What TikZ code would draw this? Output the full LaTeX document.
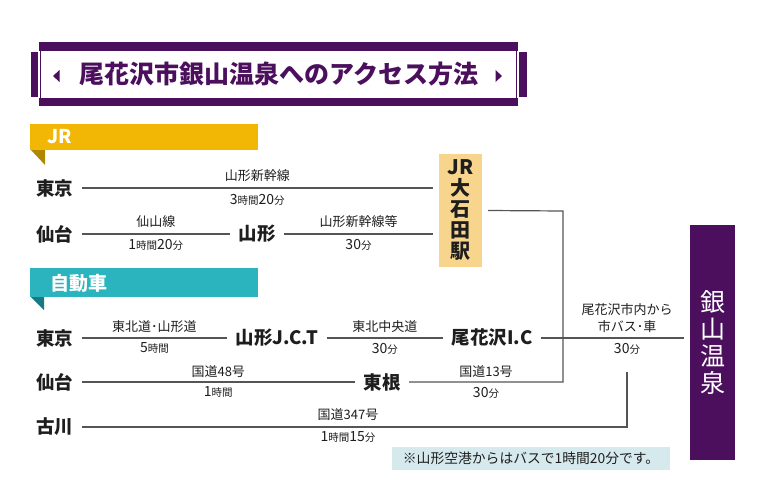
\documentclass[tikz,border=0pt]{standalone}
\usepackage{fontspec}
\setmainfont{Noto Sans CJK JP}
\definecolor{purp}{HTML}{4B0F5E}
\definecolor{jry}{HTML}{F2B705}
\definecolor{jryd}{HTML}{B08800}
\definecolor{carteal}{HTML}{2BB3BE}
\definecolor{tealdk}{HTML}{167A82}
\definecolor{jrboxc}{HTML}{F8D58C}
\definecolor{notebg}{HTML}{D6E9ED}
\definecolor{linec}{HTML}{555555}
\definecolor{txt}{HTML}{1E1E1E}
\newcommand\smtx[1]{{\fontsize{10.5}{12}\selectfont #1}}
\begin{document}
\begin{tikzpicture}[x=1pt,y=-1pt,
  route/.style={draw=linec, line width=1.2pt},
  stn/.style={font=\fontsize{18.5}{20}\selectfont\bfseries, text=txt, inner sep=0pt, outer xsep=8.5pt},
  lab/.style={font=\fontsize{13}{15}\selectfont, text=txt, inner sep=0pt},
  tlab/.style={font=\fontsize{14}{15}\selectfont, text=txt, inner sep=0pt},
  bannertext/.style={font=\fontsize{19}{20}\selectfont\bfseries, text=white, inner sep=0pt, anchor=west},
]
\useasboundingbox (0,0) rectangle (757,503);
\fill[white] (0,0) rectangle (757,503);

% ---- title frame ----
\fill[purp] (39,42) rectangle (518,51);
\fill[purp] (39,98) rectangle (518,106);
\fill[purp] (31,52) rectangle (38,97);
\fill[purp] (519,52) rectangle (527,97);
\draw[purp, line width=1.5pt] (40.5,51) -- (40.5,98);
\draw[purp, line width=1.5pt] (516.5,51) -- (516.5,98);
\fill[purp] (53,76) -- (59.5,70) -- (59.5,82) -- cycle;
\fill[purp] (502,76) -- (495.5,70) -- (495.5,82) -- cycle;
\node[font=\fontsize{25}{26}\selectfont\bfseries, text=purp, inner sep=0pt] (title) at (279,74) {尾花沢市銀山温泉へのアクセス方法};

% ---- JR banner ----
\fill[jry] (30,124) rectangle (258,150);
\fill[jryd] (31,150) -- (45,150) -- (45,165) -- cycle;
\node[bannertext] (jrlabel) at (47,137) {JR};

% ---- car banner ----
\fill[carteal] (30,268) rectangle (258,297);
\fill[tealdk] (31,297) -- (44,297) -- (44,310) -- cycle;
\node[bannertext] (carlabel) at (50,283) {自動車};

% ---- JR section ----
\node[stn, anchor=west] (jtokyo) at (27.5,188) {東京};
\node[stn, anchor=west] (jsendai) at (27.5,234) {仙台};
\node[stn] (jyama) at (257,234) {山形};
\node[fill=jrboxc, minimum width=43pt, minimum height=113pt, inner sep=0pt, outer sep=6pt,
      font=\fontsize{20}{21}\selectfont\bfseries, text=txt, align=center] (jbox) at (460.5,210.5)
      {JR\\大\\石\\田\\駅};

\draw[route] (jtokyo.east) -- (jtokyo.east -| jbox.west)
  node[lab, midway, yshift=12pt] (l1) {山形新幹線}
  node[tlab, midway, yshift=-12pt] (t1) {3\smtx{時間}20\smtx{分}};
\draw[route] (jsendai.east) -- (jyama.west)
  node[lab, midway, yshift=12pt] (l2) {仙山線}
  node[tlab, midway, yshift=-11pt] (t2) {1\smtx{時間}20\smtx{分}};
\draw[route] (jyama.east) -- (jyama.east -| jbox.west)
  node[lab, midway, yshift=12pt] (l3) {山形新幹線等}
  node[tlab, midway, yshift=-11pt] (t3) {30\smtx{分}};

% ---- car section ----
\node[stn, anchor=west] (ctokyo) at (27.5,338) {東京};
\node[stn] (cjct) at (277,338) {山形J.C.T};
\node[stn] (cic) at (492,338) {尾花沢I.C};
\node[stn, anchor=west] (csendai) at (27.5,382) {仙台};
\node[stn] (ctone) at (382,382) {東根};
\node[stn, anchor=west] (cfuru) at (27.5,427) {古川};

\node[fill=purp, minimum width=45pt, minimum height=235pt, inner sep=0pt, outer sep=6pt,
      font=\fontsize{25}{27}\selectfont, text=white, align=center] (gin) at (712.5,342.5)
      {銀\\山\\温\\泉};

\coordinate (c1) at (563,211);
\coordinate (c3) at (627,372);

\draw[route] (ctokyo.east) -- (cjct.west)
  node[lab, midway, yshift=11pt] (l4) {東北道･山形道}
  node[tlab, midway, yshift=-10pt] (t4) {5\smtx{時間}};
\draw[route] (cjct.east) -- (cic.west)
  node[lab, midway, yshift=11pt] (l5) {東北中央道}
  node[tlab, midway, yshift=-11pt] (t5) {30\smtx{分}};
\draw[route] (csendai.east) -- (ctone.west)
  node[lab, midway, yshift=10pt] (l6) {国道48号}
  node[tlab, midway, yshift=-10pt] (t6) {1\smtx{時間}};
\draw[route] (jbox.east) -- (c1) |- (ctone.east);
\path (ctone.east) -- (ctone.east -| c1)
  node[lab, midway, yshift=10pt] (l7) {国道13号}
  node[tlab, midway, yshift=-11pt] (t7) {30\smtx{分}};
\draw[route] (cfuru.east) -| (c3);
\node[lab] (l8) at (348,415) {国道347号};
\node[tlab] (t8) at (348,437) {1\smtx{時間}15\smtx{分}};
\draw[route] (cic.east) -- (cic.east -| gin.west);
\node[lab] (b1) at (627,310) {尾花沢市内から};
\node[lab] (b2) at (627,327) {市バス･車};
\node[tlab] (b3) at (627,349) {30\smtx{分}};

% ---- note ----
\node[fill=notebg, minimum width=278pt, minimum height=23pt, inner sep=0pt,
      font=\fontsize{13.8}{15}\selectfont, text=txt] (note) at (531,458.5)
      {※山形空港からはバスで1時間20分です。};
\end{tikzpicture}
\end{document}
